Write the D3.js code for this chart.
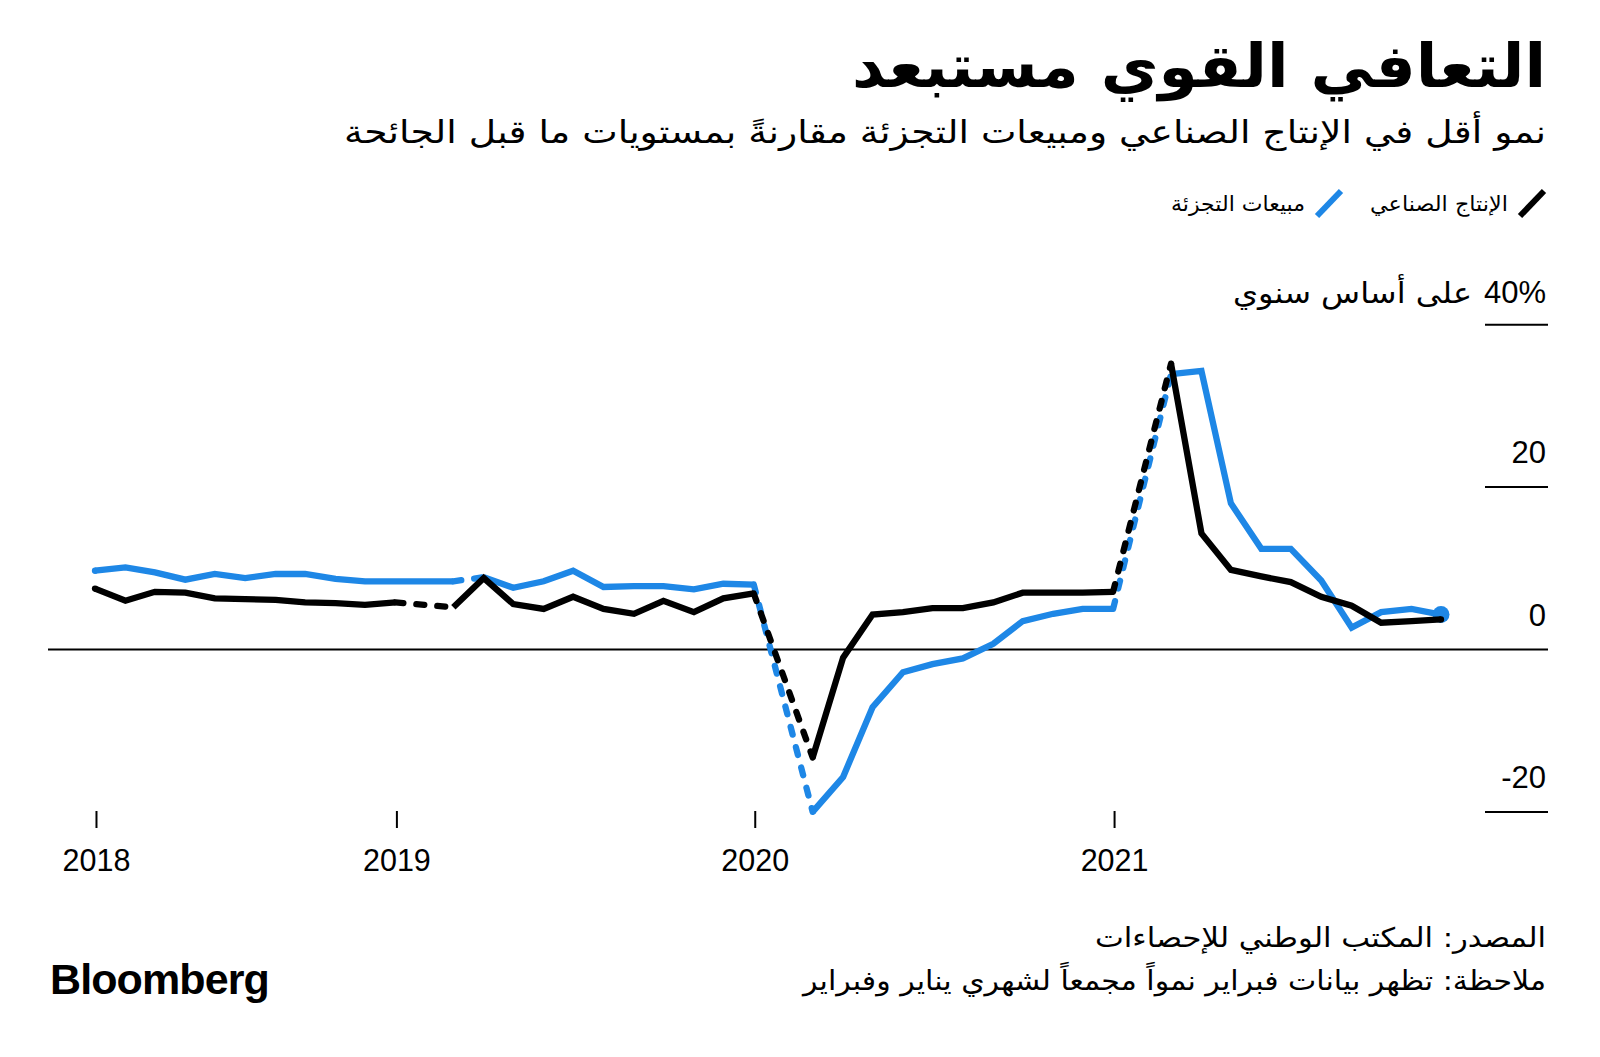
<!DOCTYPE html>
<html lang="ar">
<head>
<meta charset="utf-8">
<script src="https://cdn.jsdelivr.net/npm/d3@7"></script>
<style>
  html, body { margin: 0; padding: 0; background: #ffffff; }
  svg { display: block; }
  .ar { font-family: "DejaVu Sans", sans-serif; }
  .lat { font-family: "Liberation Sans", Arial, sans-serif; }
</style>
</head>
<body>
<svg id="chart" width="1600" height="1057"></svg>
<script>
// ---------- data ----------
const months = [
  "2018-02","2018-03","2018-04","2018-05","2018-06","2018-07","2018-08","2018-09","2018-10","2018-11","2018-12",
  "2019-01","2019-02","2019-03","2019-04","2019-05","2019-06","2019-07","2019-08","2019-09","2019-10","2019-11","2019-12",
  "2020-01","2020-02","2020-03","2020-04","2020-05","2020-06","2020-07","2020-08","2020-09","2020-10","2020-11","2020-12",
  "2021-01","2021-02","2021-03","2021-04","2021-05","2021-06","2021-07","2021-08","2021-09","2021-10","2021-11"
];
// Industrial production, % y/y (black)
const industrial = [
  7.5, 6.0, 7.1, 7.0, 6.3, 6.2, 6.1, 5.8, 5.7, 5.5, 5.8,
  null, 5.2, 8.8, 5.6, 5.0, 6.5, 5.0, 4.4, 6.0, 4.6, 6.3, 6.9,
  null, -13.3, -1.0, 4.3, 4.6, 5.1, 5.1, 5.8, 7.0, 7.0, 7.0, 7.1,
  null, 35.2, 14.3, 9.8, 9.0, 8.3, 6.5, 5.4, 3.3, 3.5, 3.7
];
// Retail sales, % y/y (blue)
const retail = [
  9.7, 10.1, 9.5, 8.6, 9.3, 8.8, 9.3, 9.3, 8.7, 8.4, 8.4,
  null, 8.4, 8.9, 7.6, 8.4, 9.7, 7.7, 7.8, 7.8, 7.4, 8.1, 8.0,
  null, -20.0, -15.7, -7.1, -2.8, -1.8, -1.1, 0.7, 3.5, 4.4, 5.0, 5.0,
  null, 33.9, 34.3, 18.0, 12.4, 12.4, 8.5, 2.7, 4.6, 5.0, 4.3
];
// segments drawn dashed (start month, end month)
const industrialDashed = [["2018-12","2019-02"], ["2019-12","2020-02"], ["2020-12","2021-02"]];
const retailDashed = [["2019-02","2019-03"], ["2019-12","2020-02"], ["2020-12","2021-02"]];

const xTickDates = ["2018-03-01","2019-01-01","2020-01-01","2021-01-01"];
const xTickLabels = ["2018","2019","2020","2021"];
const yTicks = [40, 20, 0, -20];
const yTickLabels = ["40%", "20", "0", "-20"];

const title = "التعافي القوي مستبعد";
const subtitle = "نمو أقل في الإنتاج الصناعي ومبيعات التجزئة مقارنةً بمستويات ما قبل الجائحة";
const legendNames = ["الإنتاج الصناعي", "مبيعات التجزئة"];
const yUnit = "على أساس سنوي";
const source = "المصدر: المكتب الوطني للإحصاءات";
const note = "ملاحظة: تظهر بيانات فبراير نمواً مجمعاً لشهري يناير وفبراير";

// ---------- setup ----------
const BLUE = "#1e87e6";
const BLACK = "#000000";
const LW = 6.3;
const svg = d3.select("#chart");

const monthEnd = s => { const [yy, m] = s.split("-").map(Number); return new Date(yy, m, 0); };
const dates = months.map(monthEnd);
const parse = d3.timeParse("%Y-%m-%d");

const x = d3.scaleTime()
  .domain([dates[0], dates[dates.length - 1]])
  .range([95, 1441]);
const y = d3.scaleLinear().domain([-20, 40]).range([811.9, 324.7]);

const rightEdge = 1546;

function arText(txt, xr, yb, size, width, bold) {
  const t = svg.append("text").attr("class", "ar")
    .attr("x", xr).attr("y", yb)
    .attr("direction", "rtl").attr("text-anchor", "start")
    .attr("font-size", size)
    .text(txt);
  if (bold) t.attr("font-weight", "bold");
  if (width) t.attr("textLength", width).attr("lengthAdjust", "spacingAndGlyphs");
  return t;
}

// ---------- titles ----------
arText(title, rightEdge, 87, 60, 694, true);
arText(subtitle, rightEdge, 143, 32, 1202, false);

// ---------- legend ----------
const legend = [
  {name: legendNames[0], color: BLACK, right: 1546, w: 138},
  {name: legendNames[1], color: BLUE, right: 1343, w: 134}
];
legend.forEach(l => {
  svg.append("line")
    .attr("x1", l.right - 26).attr("y1", 216)
    .attr("x2", l.right - 2).attr("y2", 191)
    .attr("stroke", l.color).attr("stroke-width", 6);
  arText(l.name, l.right - 38, 211, 21, l.w, false);
});

// ---------- y axis ----------
const yAxisG = svg.append("g");
yTicks.forEach((t, i) => {
  if (t !== 0) {
    yAxisG.append("line")
      .attr("x1", 1485).attr("x2", 1548)
      .attr("y1", y(t)).attr("y2", y(t))
      .attr("stroke", "#000").attr("stroke-width", 2);
  }
  const off = t === 40 ? 22 : 24;
  yAxisG.append("text").attr("class", "lat")
    .attr("x", 1546).attr("y", y(t) - off)
    .attr("text-anchor", "end")
    .attr("font-size", 31)
    .text(yTickLabels[i]);
});
arText(yUnit, 1472, y(40) - 22, 29, 239, false);

// zero line
svg.append("line")
  .attr("x1", 48).attr("x2", 1548)
  .attr("y1", y(0)).attr("y2", y(0))
  .attr("stroke", "#000").attr("stroke-width", 2);

// ---------- x axis ----------
const xAxis = d3.axisBottom(x)
  .tickValues(xTickDates.map(parse))
  .tickSize(17)
  .tickFormat((d, i) => xTickLabels[i]);
const xg = svg.append("g").attr("transform", "translate(0,811)").call(xAxis);
xg.select(".domain").remove();
xg.selectAll(".tick line").attr("stroke", "#000").attr("stroke-width", 2);
xg.selectAll(".tick text")
  .attr("class", "lat")
  .attr("font-size", 30.5)
  .attr("fill", "#000")
  .attr("dy", 0)
  .attr("y", 60);

// ---------- lines ----------
function drawSeries(values, dashedList, color) {
  const pts = values.map((v, i) => ({m: months[i], date: dates[i], v: v}));
  const defined = pts.filter(d => d.v !== null);
  const isDashed = (a, b) => dashedList.some(s => s[0] === a.m && s[1] === b.m);
  const ln = d3.line().x(d => x(d.date)).y(d => y(d.v));
  // split into solid runs and dashed pieces
  let run = [defined[0]];
  const solids = [], dashes = [];
  for (let k = 1; k < defined.length; k++) {
    const a = defined[k - 1], b = defined[k];
    if (isDashed(a, b)) {
      solids.push(run);
      dashes.push([a, b]);
      run = [b];
    } else {
      run.push(b);
    }
  }
  solids.push(run);
  solids.filter(r => r.length > 1).forEach(r => {
    svg.append("path").datum(r).attr("d", ln)
      .attr("fill", "none").attr("stroke", color)
      .attr("stroke-width", LW)
      .attr("stroke-linejoin", "miter")
      .attr("stroke-linecap", "butt");
  });
  dashes.forEach(r => {
    svg.append("path").datum(r).attr("d", ln)
      .attr("fill", "none").attr("stroke", color)
      .attr("stroke-width", LW)
      .attr("stroke-dasharray", "8,13")
      .attr("stroke-linecap", "round");
  });
  return pts;
}
const bluePts = drawSeries(retail, retailDashed, BLUE);
const lastBlue = bluePts[bluePts.length - 1];
svg.append("circle")
  .attr("cx", x(lastBlue.date)).attr("cy", y(lastBlue.v))
  .attr("r", 8.5).attr("fill", BLUE);
const blackPts = drawSeries(industrial, industrialDashed, BLACK);
const lastBlack = blackPts[blackPts.length - 1];
svg.append("circle")
  .attr("cx", x(lastBlack.date)).attr("cy", y(lastBlack.v))
  .attr("r", LW / 2).attr("fill", BLACK);
const firstPts = [bluePts[0], blackPts[0]];
firstPts.forEach((p, i) => {
  svg.append("circle")
    .attr("cx", x(p.date)).attr("cy", y(p.v))
    .attr("r", LW / 2).attr("fill", i === 0 ? BLUE : BLACK);
});

// ---------- footer ----------
arText(source, rightEdge, 947, 27, 451, false);
arText(note, rightEdge, 990, 27, 743, false);
svg.append("text").attr("class", "lat")
  .attr("x", 50).attr("y", 994)
  .attr("font-size", 43).attr("font-weight", "bold")
  .attr("letter-spacing", -0.9)
  .text("Bloomberg");
</script>
</body>
</html>
